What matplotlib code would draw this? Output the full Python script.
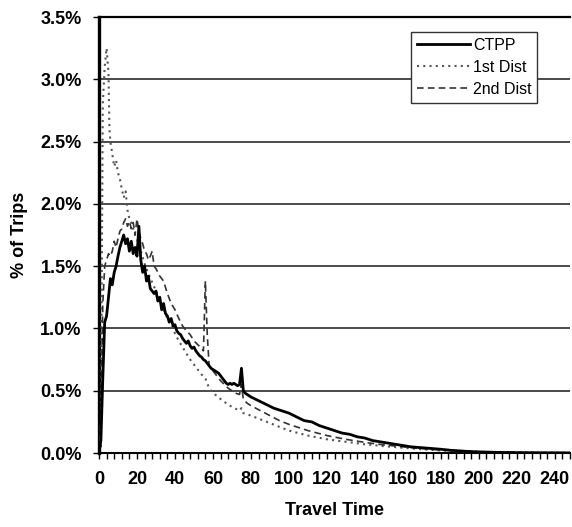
import matplotlib
matplotlib.use("Agg")
import matplotlib.pyplot as plt
from matplotlib.ticker import MultipleLocator, FuncFormatter

# ---- data (percent of trips) ----
ctpp_t = [0, 1, 2, 3, 4, 5, 6, 7, 8, 9, 10, 11, 12, 13, 14, 15, 16, 17, 18, 19,
          20, 21, 22, 23, 24, 25, 26, 27, 28, 29, 30, 31, 32, 33, 34, 35, 36, 37, 38, 39,
          40, 41, 42, 43, 44, 45, 46, 47, 48, 49, 50, 51, 52, 53, 54, 55, 56, 57, 58, 59,
          60, 61, 62, 63, 64, 65, 66, 67, 68, 69, 70, 71, 72, 73, 74, 75, 76, 77, 78, 79,
          80, 84, 88, 92, 96, 100, 104, 108, 112, 116, 120, 124, 128, 132, 136, 140, 144,
          148, 152, 156, 160, 164, 168, 172, 176, 180, 185, 190, 195, 200, 210, 220, 230, 248]
ctpp_v = [0.0, 0.1, 0.6, 1.05, 1.1, 1.25, 1.4, 1.35, 1.45, 1.5, 1.58, 1.65, 1.7, 1.75, 1.68, 1.72, 1.62, 1.7, 1.6, 1.65,
          1.58, 1.82, 1.55, 1.45, 1.5, 1.38, 1.42, 1.32, 1.3, 1.28, 1.3, 1.22, 1.25, 1.15, 1.2, 1.12, 1.1, 1.05, 1.08, 1.02,
          1.03, 0.98, 0.96, 0.95, 0.92, 0.9, 0.88, 0.9, 0.86, 0.84, 0.85, 0.82, 0.8, 0.78, 0.77, 0.75, 0.74, 0.72, 0.7, 0.68,
          0.67, 0.66, 0.65, 0.64, 0.62, 0.6, 0.58, 0.56, 0.55, 0.56, 0.55, 0.56, 0.55, 0.54, 0.55, 0.68, 0.5, 0.48, 0.47, 0.46,
          0.45, 0.42, 0.39, 0.36, 0.34, 0.32, 0.29, 0.26, 0.25, 0.22, 0.2, 0.18, 0.16, 0.15, 0.13, 0.12, 0.1,
          0.09, 0.08, 0.07, 0.06, 0.05, 0.045, 0.04, 0.035, 0.03, 0.022, 0.017, 0.012, 0.009, 0.005, 0.003, 0.002, 0.001]

dist1_t = [0, 1, 1.5, 2, 3, 4, 5, 5.5, 6, 7, 8, 9, 10, 11, 12, 13, 14, 15, 16, 17, 18, 19,
           20, 22, 24, 26, 28, 30, 32, 34, 36, 38, 40, 42, 44, 46, 48, 50, 52, 54, 56, 58,
           60, 62, 65, 70, 74, 75, 76, 80, 85, 90, 95, 100, 110, 120, 130, 140, 150, 160,
           170, 180, 190, 200, 220, 248]
dist1_v = [0.0, 0.05, 1.5, 2.8, 3.1, 3.25, 3.05, 2.6, 2.5, 2.4, 2.3, 2.35, 2.25, 2.2, 2.12, 2.05, 2.1, 1.95, 1.88, 1.85, 1.8, 1.75,
           1.72, 1.62, 1.52, 1.44, 1.37, 1.3, 1.22, 1.15, 1.08, 1.02, 0.96, 0.9, 0.85, 0.8, 0.75, 0.71, 0.67, 0.63, 0.6, 0.52,
           0.48, 0.46, 0.42, 0.37, 0.34, 0.36, 0.32, 0.3, 0.27, 0.24, 0.21, 0.18, 0.14, 0.11, 0.09, 0.07, 0.055, 0.042,
           0.03, 0.02, 0.014, 0.009, 0.004, 0.001]

dist2_t = [0, 1, 2, 3, 4, 5, 6, 7, 8, 9, 10, 11, 12, 13, 14, 15, 16, 17, 18, 19,
           20, 21, 22, 23, 24, 25, 26, 27, 28, 29, 30, 32, 34, 36, 38, 40, 42, 44, 46, 48,
           50, 52, 54, 55, 56, 57, 58, 60, 62, 64, 66, 68, 70, 72, 74, 75, 76, 78, 80,
           85, 90, 95, 100, 110, 120, 130, 140, 150, 160, 170, 180, 190, 200, 220, 248]
dist2_v = [0.0, 0.3, 1.2, 1.5, 1.55, 1.6, 1.58, 1.62, 1.7, 1.65, 1.72, 1.78, 1.8, 1.85, 1.88, 1.82, 1.86, 1.8, 1.85, 1.75,
           1.88, 1.78, 1.72, 1.68, 1.62, 1.6, 1.55, 1.58, 1.62, 1.5, 1.48, 1.42, 1.38, 1.28, 1.2, 1.15, 1.08, 1.02, 0.98, 0.95,
           0.9, 0.87, 0.84, 0.82, 1.38, 0.95, 0.7, 0.66, 0.62, 0.58, 0.55, 0.52, 0.5, 0.48, 0.47, 0.55, 0.43, 0.4, 0.38,
           0.34, 0.3, 0.26, 0.23, 0.18, 0.14, 0.11, 0.085, 0.065, 0.05, 0.035, 0.025, 0.016, 0.01, 0.004, 0.001]

series_labels = ["CTPP", "1st Dist", "2nd Dist"]
x_label = "Travel Time"
y_label = "% of Trips"

plt.rcParams['font.family'] = ['Liberation Sans', 'DejaVu Sans']

fig = plt.figure(figsize=(5.72, 5.27), dpi=100)
ax = fig.add_axes([99/572, 74/527, 471/572, 436/527])

ax.set_xlim(0, 248)
ax.set_ylim(0, 3.5)

ax.yaxis.set_major_locator(MultipleLocator(0.5))
ax.grid(axis='y', color='#4a4a4a', linewidth=1.4, zorder=0)
ax.set_axisbelow(True)

ax.plot(ctpp_t, ctpp_v, color='black', linewidth=2.0, linestyle='-', label=series_labels[0], zorder=4)
ax.plot(dist1_t, dist1_v, color='#555555', linewidth=1.5, linestyle=(0, (1, 2)), label=series_labels[1], zorder=3)
ax.plot(dist2_t, dist2_v, color='#333333', linewidth=1.2, linestyle=(0, (4, 2.5)), label=series_labels[2], zorder=3)

ax.xaxis.set_major_locator(MultipleLocator(20))
ax.xaxis.set_minor_locator(MultipleLocator(4))
ax.yaxis.set_major_formatter(FuncFormatter(lambda v, p: f"{v:.1f}%"))

ax.tick_params(axis='x', which='major', direction='out', length=4, width=1, labelsize=13, pad=9)
ax.tick_params(axis='x', which='minor', direction='out', length=4, width=1)
ax.tick_params(axis='y', which='major', direction='out', length=4.5, width=1, labelsize=13, pad=8)
for lab in ax.get_xticklabels() + ax.get_yticklabels():
    lab.set_fontweight('bold')

ax.spines['right'].set_visible(False)
ax.spines['left'].set_linewidth(2.4)
ax.spines['bottom'].set_linewidth(1.5)
ax.spines['top'].set_linewidth(1.6)

ax.set_xlabel(x_label, fontsize=13, fontweight='bold', labelpad=10)
ax.set_ylabel(y_label, fontsize=13, fontweight='bold', labelpad=9)

leg = ax.legend(loc='upper right', bbox_to_anchor=((537 - 99) / 471, (453 - 32) / 436), fontsize=11.5,
                frameon=True, fancybox=False, edgecolor='#333333', handlelength=3.3,
                borderpad=0.35, labelspacing=0.45, handletextpad=0.2, borderaxespad=0)
leg.get_frame().set_linewidth(1.0)
leg.get_frame().set_alpha(1)

fig.savefig("out.png", dpi=100)
